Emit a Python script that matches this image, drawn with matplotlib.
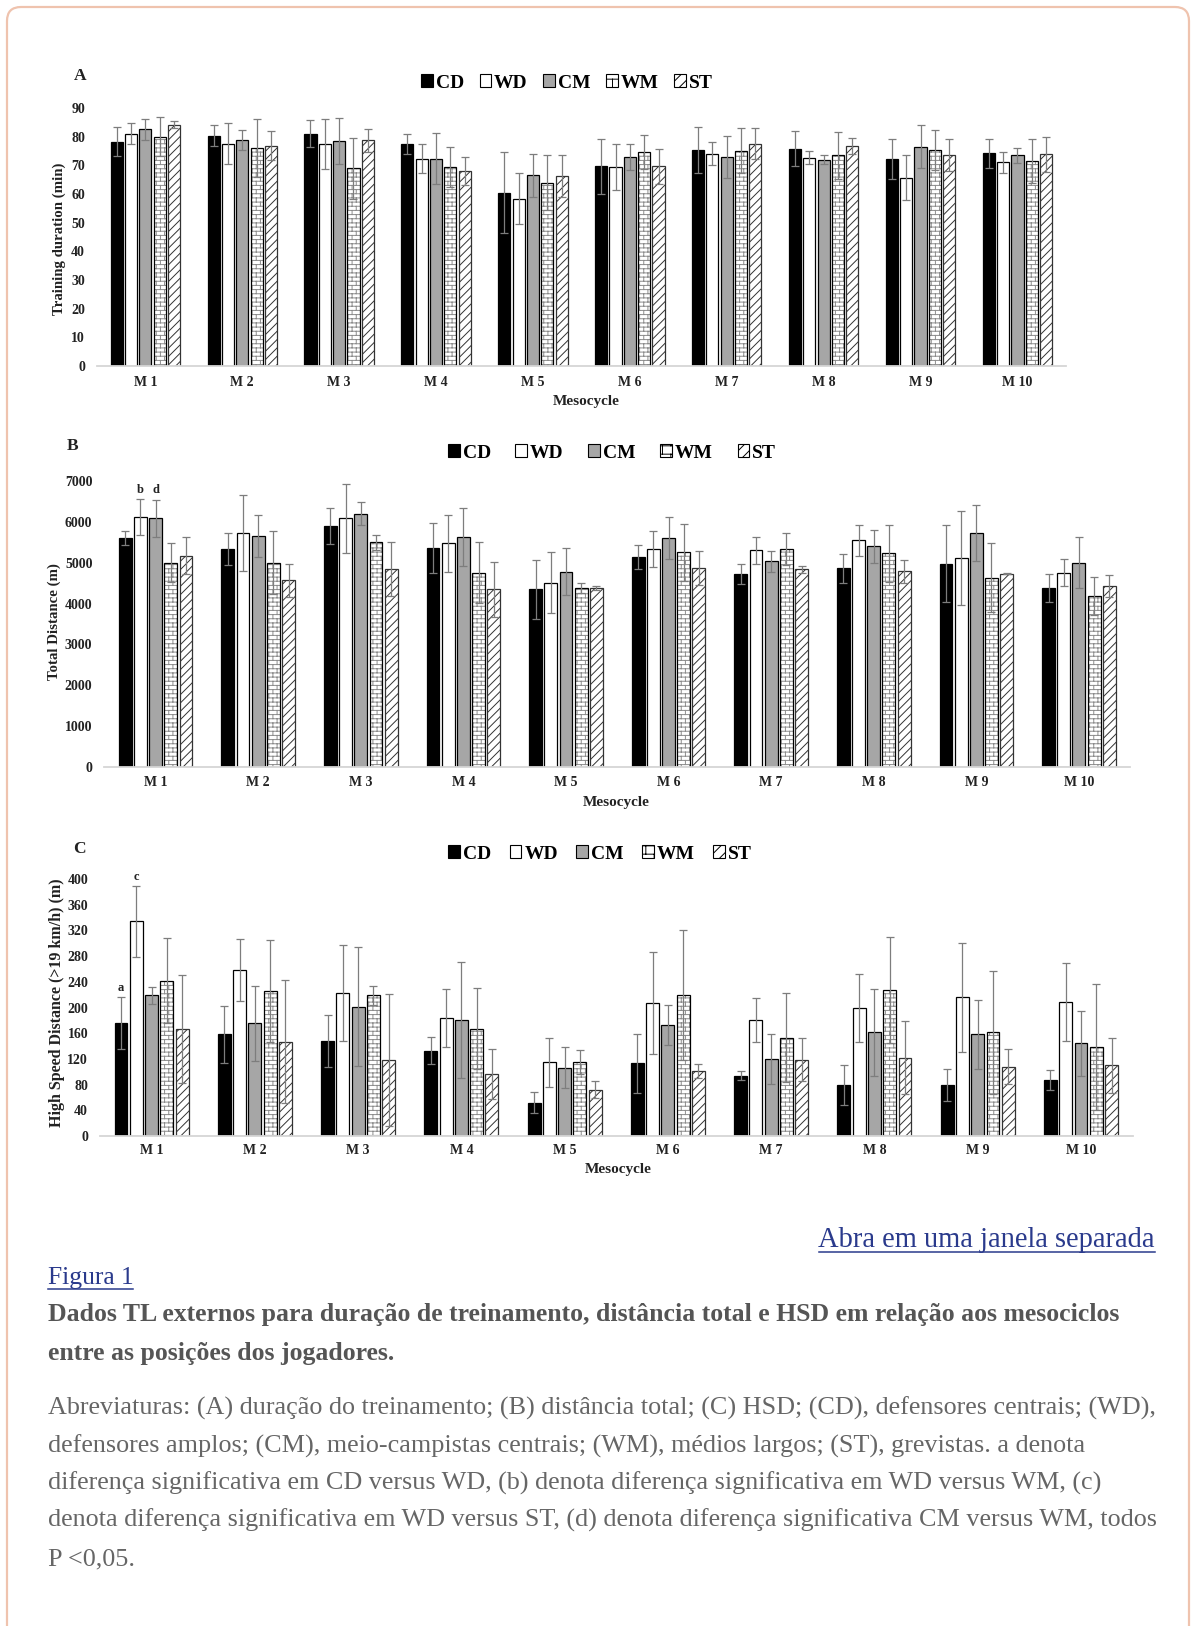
import warnings
import numpy as np
import matplotlib
matplotlib.use("Agg")
import matplotlib.pyplot as plt
import matplotlib.hatch as mhatch
from matplotlib.path import Path
from matplotlib.patches import Patch, FancyBboxPatch
from matplotlib.lines import Line2D

warnings.filterwarnings("ignore")

# ---------------- data ----------------
positions = ["CD", "WD", "CM", "WM", "ST"]
mesocycles = ["M 1", "M 2", "M 3", "M 4", "M 5", "M 6", "M 7", "M 8", "M 9", "M 10"]

# Panel A: training duration (min), rows = CD, WD, CM, WM, ST
td_mean = [
    [78.2, 80.3, 81.1, 77.3, 60.5, 69.6, 75.4, 75.8, 72.3, 74.2],
    [81.1, 77.6, 77.3, 72.3, 58.4, 69.5, 74.0, 72.7, 65.7, 71.0],
    [82.6, 78.8, 78.4, 72.3, 66.6, 73.0, 73.0, 72.0, 76.5, 73.5],
    [80.0, 76.1, 68.9, 69.5, 64.0, 74.7, 75.1, 73.5, 75.4, 71.6],
    [84.2, 76.9, 78.8, 68.0, 66.3, 69.6, 77.6, 76.8, 73.5, 73.8],
]
td_sd = [
    [5.0, 3.6, 4.8, 3.5, 14.2, 9.6, 7.9, 6.1, 7.0, 5.1],
    [3.5, 7.0, 8.7, 5.0, 9.0, 8.1, 4.0, 2.4, 7.9, 3.7],
    [3.7, 3.5, 8.0, 8.9, 7.5, 4.6, 7.3, 1.5, 7.4, 2.6],
    [6.8, 10.0, 10.7, 7.0, 9.5, 6.0, 7.9, 8.1, 6.9, 7.7],
    [1.2, 5.0, 4.0, 5.0, 7.3, 6.1, 5.4, 2.9, 5.6, 6.2],
]

# Panel B: total distance (m)
dist_mean = [
    [5600, 5332, 5898, 5365, 4348, 5144, 4733, 4865, 4980, 4381],
    [6112, 5734, 6087, 5472, 4512, 5332, 5299, 5546, 5119, 4758],
    [6087, 5660, 6194, 5628, 4783, 5611, 5037, 5398, 5734, 5004],
    [5004, 5004, 5496, 4758, 4381, 5258, 5332, 5226, 4627, 4184],
    [5168, 4569, 4840, 4348, 4381, 4865, 4840, 4791, 4733, 4430],
]
dist_sd = [
    [175, 385, 445, 615, 730, 295, 245, 360, 950, 350],
    [440, 925, 845, 700, 740, 435, 330, 385, 1150, 330],
    [450, 515, 280, 715, 580, 510, 260, 400, 680, 615],
    [470, 760, 190, 755, 130, 700, 395, 705, 845, 470],
    [450, 410, 665, 680, 50, 420, 80, 280, 20, 260],
]

# Panel C: high speed distance (m)
hsd_mean = [
    [176, 158, 148, 133, 52, 113, 94, 79, 79, 87.5],
    [334, 258, 223, 184, 115, 207, 181, 199.5, 216, 209],
    [219, 175.5, 201.5, 181, 106, 173, 120, 161.5, 158, 144],
    [242, 225.5, 219, 167, 115, 219, 153, 227, 161.5, 139],
    [167, 147, 118, 96, 72, 101.5, 119, 122, 108, 110],
]
hsd_sd = [
    [40, 44, 41, 21, 16, 46, 7, 31, 25, 16],
    [55, 48, 75, 45, 38, 80, 34, 53, 85, 61],
    [13, 58, 92, 90, 32, 31, 39, 68, 53, 51],
    [66, 79, 15, 63, 19, 101, 69, 83, 96, 98],
    [84, 96, 103, 39, 13, 11, 33, 57, 27, 43],
]

# significance letters: (position index, mesocycle index, letter)
dist_letters = [(1, 0, "b"), (2, 0, "d")]
hsd_letters = [(0, 0, "a"), (1, 0, "c")]

td_ticks = list(range(0, 91, 10))
dist_ticks = list(range(0, 7001, 1000))
hsd_ticks = list(range(0, 401, 40))

link_text = "Abra em uma janela separada"
fig_label = "Figura 1"
caption_lines = [
    "Dados TL externos para duração de treinamento, distância total e HSD em relação aos mesociclos",
    "entre as posições dos jogadores.",
]
abbrev_lines = [
    "Abreviaturas: (A) duração do treinamento; (B) distância total; (C) HSD; (CD), defensores centrais; (WD),",
    "defensores amplos; (CM), meio-campistas centrais; (WM), médios largos; (ST), grevistas. a denota",
    "diferença significativa em CD versus WD, (b) denota diferença significativa em WD versus WM, (c)",
    "denota diferença significativa em WD versus ST, (d) denota diferença significativa CM versus WM, todos",
    "P <0,05.",
]


# ---------------- brick hatch ----------------
class BrickHatch(mhatch.HatchPatternBase):
    def __init__(self, hatch, density):
        n = hatch.count("b") * density
        self.rows = n
        self.cols = max(n // 2, 1)
        if n:
            self.num_vertices = self.rows * 2 + self.rows * self.cols * 2 + self.cols * 2
        else:
            self.num_vertices = 0

    def set_vertices_and_codes(self, vertices, codes):
        rows, cols = self.rows, self.cols
        k = 0
        h = 1.0 / rows
        for r in range(rows):
            y0 = (r + 0.5) * h
            vertices[k] = (0.0, y0); codes[k] = Path.MOVETO; k += 1
            vertices[k] = (1.0, y0); codes[k] = Path.LINETO; k += 1
            off = 0.5 / cols if r % 2 else 0.0
            for c in range(cols):
                x = (c + 0.25) / cols + off
                y1 = y0 + h
                if y1 > 1.0:
                    vertices[k] = (x, y0); codes[k] = Path.MOVETO; k += 1
                    vertices[k] = (x, 1.0); codes[k] = Path.LINETO; k += 1
                    vertices[k] = (x, 0.0); codes[k] = Path.MOVETO; k += 1
                    vertices[k] = (x, y1 - 1.0); codes[k] = Path.LINETO; k += 1
                else:
                    vertices[k] = (x, y0); codes[k] = Path.MOVETO; k += 1
                    vertices[k] = (x, y1); codes[k] = Path.LINETO; k += 1
        while k < len(vertices):
            vertices[k] = vertices[k - 1]; codes[k] = Path.LINETO; k += 1


mhatch._hatch_types.append(BrickHatch)

# ---------------- figure ----------------
W, H = 1192, 1626
plt.rcParams["font.family"] = ["Liberation Serif", "DejaVu Serif"]
plt.rcParams["hatch.linewidth"] = 0.7
fig = plt.figure(figsize=(W / 100, H / 100), dpi=100)
fig.patch.set_facecolor("white")

# rounded border
border = FancyBboxPatch((7, -30), 1182, H - 7 + 30,
                        boxstyle="round,pad=0,rounding_size=14",
                        transform=None, fill=False, edgecolor="#efc3ae", lw=1.6)
fig.add_artist(border)


def px_axes(x0, x1, ytop, ybot):
    return fig.add_axes([x0 / W, 1 - ybot / H, (x1 - x0) / W, (ybot - ytop) / H])


bar_w = 0.125
step = 0.148
offsets = [(i - 2) * step for i in range(5)]
x = np.arange(len(mesocycles))

face = ["black", "white", "#a6a6a6", "white", "white"]
err_c = "#7d7d7d"


def draw_panel(ax, means, sds, ylim, ticks, xpad, letters):
    for i in range(5):
        xi = x + offsets[i]
        m = means[i]
        if i == 3:
            ax.bar(xi, m, bar_w, color="white", edgecolor="#8c8c8c", hatch="bbbb", lw=0, zorder=2)
            ax.bar(xi, m, bar_w, fill=False, edgecolor="black", lw=0.9, zorder=2)
        elif i == 4:
            ax.bar(xi, m, bar_w, color="white", edgecolor="#333333", hatch="////", lw=0.9, zorder=2)
        else:
            ax.bar(xi, m, bar_w, color=face[i], edgecolor="black", lw=0.9, zorder=2)
        ax.errorbar(xi, m, yerr=sds[i], fmt="none", ecolor=err_c, elinewidth=0.9,
                    capsize=2.6, capthick=0.9, zorder=3, clip_on=False)
    for (pi, mi, lt) in letters:
        ax.annotate(lt, (x[mi] + offsets[pi], means[pi][mi] + sds[pi][mi]),
                    xytext=(0, 2.5), textcoords="offset points", ha="center", va="bottom",
                    fontsize=9, fontweight="bold", color="#222222")
    ax.set_xlim(-0.5, len(mesocycles) - 0.5)
    ax.set_ylim(*ylim)
    ax.set_yticks(ticks)
    ax.set_yticklabels([str(t) for t in ticks])
    ax.set_xticks(x)
    ax.set_xticklabels(mesocycles)
    for s in ("top", "right", "left"):
        ax.spines[s].set_visible(False)
    ax.spines["bottom"].set_color("#d6d6d6")
    ax.spines["bottom"].set_linewidth(1.3)
    ax.tick_params(axis="both", length=0, colors="#222222")
    ax.tick_params(axis="y", pad=8.5, labelsize=10)
    ax.tick_params(axis="x", pad=xpad, labelsize=10)
    for lab in ax.get_xticklabels() + ax.get_yticklabels():
        lab.set_fontweight("bold")
    ax.patch.set_alpha(0)


def legend_for(ax, cx, cy, colsp, fs):
    handles = [
        Patch(facecolor="black", edgecolor="black", lw=0.8),
        Patch(facecolor="white", edgecolor="black", lw=0.8),
        Patch(facecolor="#a6a6a6", edgecolor="black", lw=0.8),
        Patch(facecolor="white", edgecolor="black", lw=0.8, hatch="bb"),
        Patch(facecolor="white", edgecolor="black", lw=0.8, hatch="///"),
    ]
    ax.legend(handles, positions, loc="center", bbox_to_anchor=(cx / W, 1 - cy / H),
              bbox_transform=fig.transFigure, ncol=5, frameon=False,
              handlelength=0.6, handleheight=0.6, handletextpad=0.15,
              columnspacing=colsp, borderpad=0,
              prop={"family": "Liberation Serif", "weight": "bold", "size": fs})


axA = px_axes(96.9, 1065.9, 108, 366)
draw_panel(axA, td_mean, td_sd, (0, 90), td_ticks, 7.5, [])
legend_for(axA, 567, 83, 0.8, 14)

axB = px_axes(104.3, 1130.2, 481, 767)
draw_panel(axB, dist_mean, dist_sd, (0, 7000), dist_ticks, 6.5, dist_letters)
legend_for(axB, 612, 453, 1.27, 14)

axC = px_axes(99.9, 1132.6, 879, 1136)
draw_panel(axC, hsd_mean, hsd_sd, (0, 400), hsd_ticks, 6.0, hsd_letters)
legend_for(axC, 600, 854, 0.95, 14)

bold = dict(fontweight="bold", color="#222222")


def ftext(xp, yp, s, **kw):
    return fig.text(xp / W, 1 - yp / H, s, **kw)


# panel letters
ftext(80, 76, "A", fontsize=12.5, ha="center", va="center", **bold)
ftext(73, 446, "B", fontsize=12.5, ha="center", va="center", **bold)
ftext(79, 849, "C", fontsize=12.5, ha="center", va="center", **bold)

# y labels
ftext(59, 239, "Training duration (min)", fontsize=10.7, rotation=90, ha="center", va="center", **bold)
ftext(54, 622, "Total Distance (m)", fontsize=10.7, rotation=90, ha="center", va="center", **bold)
ftext(57, 1003, "High Speed Distance (>19 km/h) (m)", fontsize=11.5, rotation=90, ha="center", va="center", **bold)

# x labels
ftext(586, 401, "Mesocycle", fontsize=11, ha="center", va="center", **bold)
ftext(616, 802, "Mesocycle", fontsize=11, ha="center", va="center", **bold)
ftext(618, 1169, "Mesocycle", fontsize=11, ha="center", va="center", **bold)

# ---------------- caption text ----------------
fig.canvas.draw()
renderer = fig.canvas.get_renderer()


def fit_size(s, target_w, weight="normal", base=16.0):
    t = fig.text(0, 0, s, fontsize=base, fontweight=weight, family="Liberation Serif")
    w = t.get_window_extent(renderer).width
    t.remove()
    return base * target_w / w


link_fs = fit_size(link_text, 338)
figlab_fs = fit_size(fig_label, 86)
cap_fs = fit_size(caption_lines[0], 1072, weight="bold")
abb_fs = fit_size(abbrev_lines[0], 1107)

blue = "#2a3a8c"


def underline(t, ypx):
    bb = t.get_window_extent(renderer)
    yy = 1 - ypx / H
    fig.add_artist(Line2D([bb.x0 / W, bb.x1 / W], [yy, yy], color=blue, lw=1.1,
                          transform=fig.transFigure))


t_link = ftext(1155, 1247, link_text, fontsize=link_fs, ha="right", va="baseline", color=blue)
underline(t_link, 1252)
t_fig = ftext(47.7, 1284, fig_label, fontsize=figlab_fs, ha="left", va="baseline", color=blue)
underline(t_fig, 1289)

for yb, line in zip([1321, 1360], caption_lines):
    ftext(47.7, yb, line, fontsize=cap_fs, fontweight="bold", ha="left", va="baseline", color="#555555")

for yb, line in zip([1415, 1453, 1490, 1527, 1565], abbrev_lines):
    ftext(47.7, yb, line, fontsize=abb_fs, ha="left", va="baseline", color="#666666")

fig.savefig("out.png", dpi=100, facecolor="white")
